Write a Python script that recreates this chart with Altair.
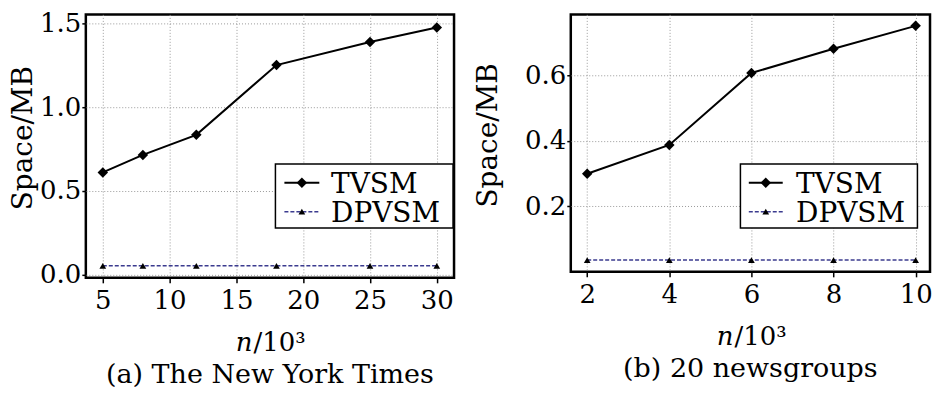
import altair as alt
import pandas as pd

# ---- data ----
nyt_n = [5, 8, 12, 18, 25, 30]
nyt_tvsm = [0.61, 0.715, 0.835, 1.252, 1.39, 1.477]
nyt_dpvsm = [0.052, 0.052, 0.052, 0.052, 0.052, 0.052]

ng_n = [2, 4, 6, 8, 10]
ng_tvsm = [0.300, 0.388, 0.608, 0.682, 0.752]
ng_dpvsm = [0.036, 0.036, 0.036, 0.036, 0.036]

series_names = ["TVSM", "DPVSM"]
nyt_xticks = [5, 10, 15, 20, 25, 30]
nyt_yticks = [0.0, 0.5, 1.0, 1.5]
ng_xticks = [2, 4, 6, 8, 10]
ng_yticks = [0.2, 0.4, 0.6]
captions = ["(a) The New York Times", "(b) 20 newsgroups"]
y_title = "Space/MB"

FONT = "DejaVu Serif"
DP_COLOR = "#3b3b8f"


def one(label):
    return alt.Chart(pd.DataFrame({"label": [label]}))


def panel(n, tvsm, dpv, xdom, ydom, xticks, yticks, W, H, leg, split_x, ytitle_x, caption):
    df = pd.DataFrame({"n": n, "tvsm": tvsm, "dpvsm": dpv})
    base = alt.Chart(df)
    xax = alt.Axis(values=xticks, title=None, grid=True, labelFont=FONT, labelFontSize=26,
                   labelColor="black", labelPadding=5, tickSize=5, tickWidth=1.5,
                   tickColor="black", domain=False, gridColor="#9a9a9a", gridDash=[1, 2],
                   gridWidth=1, labelFlush=False)
    yax = alt.Axis(values=yticks, title=None, grid=True, labelFont=FONT, labelFontSize=26,
                   labelColor="black", labelPadding=1, tickSize=4, tickWidth=1.5,
                   tickColor="black", domain=False, gridColor="#9a9a9a", gridDash=[1, 2],
                   gridWidth=1, format=".1f")
    xs = alt.Scale(domain=xdom, nice=False, zero=False)
    ys = alt.Scale(domain=ydom, nice=False, zero=False)
    X = alt.X("n:Q", scale=xs, axis=xax)
    line1 = base.mark_line(color="black", strokeWidth=2).encode(X, alt.Y("tvsm:Q", scale=ys, axis=yax))
    pts1 = base.mark_point(shape="diamond", filled=True, size=110, color="black", opacity=1).encode(
        X, alt.Y("tvsm:Q", scale=ys, axis=yax))
    line2 = base.mark_line(color=DP_COLOR, strokeDash=[4, 2], strokeWidth=1.5).encode(
        X, alt.Y("dpvsm:Q", scale=ys, axis=yax))
    pts2 = base.mark_point(shape="triangle-up", filled=True, size=45, color="black", opacity=1).encode(
        X, alt.Y("dpvsm:Q", scale=ys, axis=yax))

    bx0, bx1, by0, by1, lx0, lx1, tx, l1y, l2y, t1y, t2y = leg
    box = one("box").mark_rect(fill="white", stroke="black", strokeWidth=1.5).encode(
        x=alt.value(bx0), x2=alt.value(bx1), y=alt.value(by0), y2=alt.value(by1))
    s1 = one("s1").mark_rule(color="black", strokeWidth=2).encode(
        x=alt.value(lx0), x2=alt.value(lx1), y=alt.value(l1y))
    s2 = one("s2").mark_rule(color=DP_COLOR, strokeWidth=1.5, strokeDash=[4, 2]).encode(
        x=alt.value(lx0), x2=alt.value(lx1), y=alt.value(l2y))
    mx = (lx0 + lx1) / 2
    m1 = one("m1").mark_point(shape="diamond", filled=True, size=110, color="black", opacity=1).encode(
        x=alt.value(mx), y=alt.value(l1y))
    m2 = one("m2").mark_point(shape="triangle-up", filled=True, size=45, color="black", opacity=1).encode(
        x=alt.value(mx), y=alt.value(l2y))
    t1 = one(series_names[0]).mark_text(font=FONT, fontSize=28, align="left", baseline="alphabetic",
                                        color="black").encode(
        x=alt.value(tx), y=alt.value(t1y), text="label:N")
    t2 = one(series_names[1]).mark_text(font=FONT, fontSize=28, align="left", baseline="alphabetic",
                                        color="black").encode(
        x=alt.value(tx), y=alt.value(t2y), text="label:N")

    yt = one(y_title).mark_text(font=FONT, fontSize=28, angle=270, align="center", baseline="middle",
                                color="black").encode(
        x=alt.value(ytitle_x), y=alt.value(H * 0.47), text="label:N")
    xn = one("n").mark_text(font=FONT, fontSize=26, fontStyle="italic", align="right",
                            baseline="alphabetic", color="black").encode(
        x=alt.value(split_x), y=alt.value(H + 73), text="label:N")
    xr = one("/10³").mark_text(font=FONT, fontSize=26, align="left", baseline="alphabetic",
                               color="black").encode(
        x=alt.value(split_x + 1), y=alt.value(H + 73), text="label:N")
    cap = one(caption).mark_text(font=FONT, fontSize=27, align="center", baseline="alphabetic",
                                 color="black").encode(
        x=alt.value(W / 2), y=alt.value(H + 105), text="label:N")

    return alt.layer(line1, pts1, line2, pts2, box, s1, s2, m1, m2, t1, t2, yt, xn, xr, cap).properties(
        width=W, height=H)


H1 = 264
H2 = 258
LT = 150  # legend top relative to plot top

left = panel(nyt_n, nyt_tvsm, nyt_dpvsm, [3.73, 31.29], [-0.02, 1.555], nyt_xticks, nyt_yticks,
             369, H1,
             (190, 368, LT, LT + 64, 199, 234, 245.7, LT + 18.7, LT + 47.7, LT + 29.3, LT + 57.7),
             167, -62, captions[0])
right = panel(ng_n, ng_tvsm, ng_dpvsm, [1.6, 10.35], [0.0, 0.787], ng_xticks, ng_yticks,
              360, H2,
              (170, 347.4, LT, LT + 64, 178.4, 212.4, 225.7, LT + 18.7, LT + 47.7, LT + 29.3, LT + 57.7),
              163, -82, captions[1])

chart = alt.hconcat(left, right, spacing=117, bounds="flush").properties(
    padding=0, background="white").configure_view(stroke="black", strokeWidth=2.5)

chart.save("out.html", embed_options={"renderer": "svg", "actions": False})
